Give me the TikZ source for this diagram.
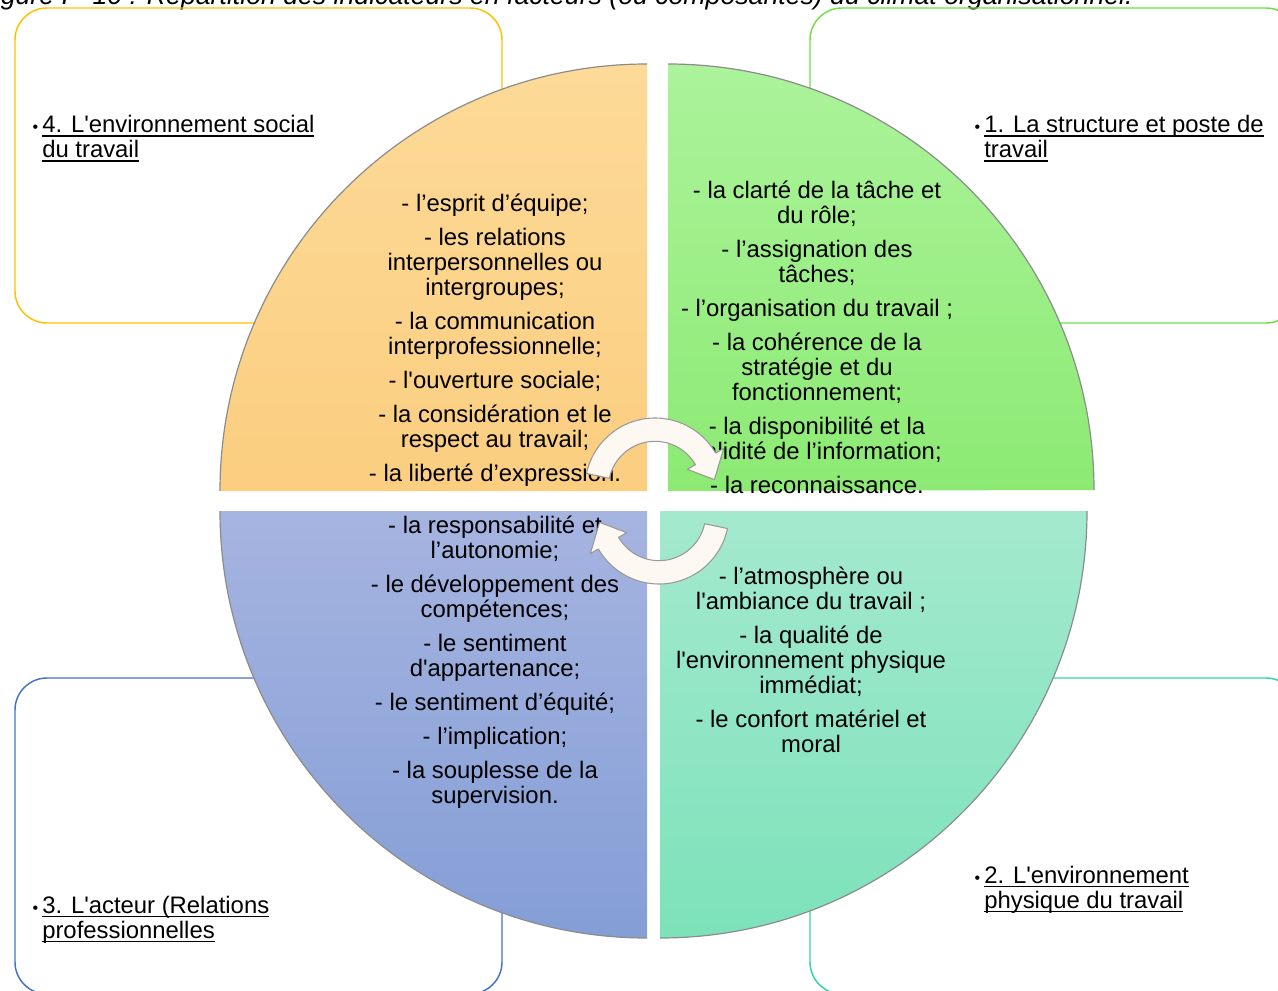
\documentclass[tikz,border=0pt]{standalone}
\usepackage{fontspec}
\setmainfont{Liberation Sans}
\definecolor{orTop}{RGB}{253,218,152}
\definecolor{orBot}{RGB}{251,206,128}
\definecolor{grTop}{RGB}{172,243,155}
\definecolor{grBot}{RGB}{140,234,115}
\definecolor{blTop}{RGB}{166,180,224}
\definecolor{blBot}{RGB}{132,158,214}
\definecolor{teTop}{RGB}{164,233,206}
\definecolor{teBot}{RGB}{124,226,186}
\definecolor{bxYellow}{RGB}{255,192,0}
\definecolor{bxGreen}{RGB}{110,224,70}
\definecolor{bxBlue}{RGB}{68,114,196}
\definecolor{bxTeal}{RGB}{52,214,158}
\definecolor{arrFill}{RGB}{253,248,242}
\newsavebox{\myulbox}
\newcommand{\myul}[1]{\sbox{\myulbox}{#1}\rlap{\rule[-3.3pt]{\wd\myulbox}{1.2pt}}\usebox{\myulbox}}
\newcommand{\sq}{\textquotesingle}
\newcommand{\mybul}{\llap{\fontsize{12pt}{12pt}\selectfont •\hspace{3pt}}}
\begin{document}
\begin{tikzpicture}[x=0.75pt,y=-0.75pt,
  cornerbox/.style={line width=1.1pt, rounded corners=24pt},
  quadedge/.style={draw=black!45, line width=0.9pt},
  qtext/.style={font=\fontsize{17.9pt}{18.75pt}\selectfont, align=center, inner sep=0pt, anchor=base},
  ctext/.style={font=\fontsize{17.9pt}{18.75pt}\selectfont, align=left, inner sep=0pt, anchor=base west},
  circarrow/.style={fill=arrFill, draw=black!40, line width=0.8pt, line join=round}]
\useasboundingbox (0,0) rectangle (1278,991);
\clip (0,0) rectangle (1278,991);

% caption (cut off at the top of the picture)
\node[font=\fontsize{20pt}{20pt}\selectfont\itshape, inner sep=0pt, anchor=base east] (caption) at (1133,5)
  {Figure I - 10 : Répartition des indicateurs en facteurs (ou composantes) du climat organisationnel.};

% corner rounded boxes
\draw[cornerbox, draw=bxYellow] (15,8) rectangle (502,323);
\draw[cornerbox, draw=bxGreen] (810,8) rectangle (1298,323);
\draw[cornerbox, draw=bxBlue] (15,678) rectangle (502,994);
\draw[cornerbox, draw=bxTeal] (810,678) rectangle (1298,994);

% quadrants
\path[top color=orTop, bottom color=orBot] (647,491) -- (220,491) arc[start angle=180, end angle=90, radius=427*0.75pt] -- cycle;
\draw[quadedge] (220,491) arc[start angle=180, end angle=90, radius=427*0.75pt];
\path[top color=grTop, bottom color=grBot] (668,491) -- (668,64) arc[start angle=90, end angle=0, radius=426*0.75pt] -- cycle;
\draw[quadedge] (668,64) arc[start angle=90, end angle=0, radius=426*0.75pt];
\path[top color=blTop, bottom color=blBot] (647,511) -- (220,511) arc[start angle=180, end angle=270, radius=427*0.75pt] -- cycle;
\draw[quadedge] (220,511) arc[start angle=180, end angle=270, radius=427*0.75pt];
\path[top color=teTop, bottom color=teBot] (660,511) -- (1087,511) arc[start angle=0, end angle=-90, radius=427*0.75pt] -- cycle;
\draw[quadedge] (1087,511) arc[start angle=0, end angle=-90, radius=427*0.75pt];

% quadrant texts (anchor = baseline of the last line)
\node[qtext] (social) at (495,481) {- l’esprit d’équipe;\\[6.75pt]
- les relations\\ interpersonnelles ou\\ intergroupes;\\[6.75pt]
- la communication\\ interprofessionnelle;\\[6.75pt]
- l\sq ouverture sociale;\\[6.75pt]
- la considération et le\\ respect au travail;\\[6.75pt]
- la liberté d’expression.};

\node[qtext] (structure) at (817,493) {- la clarté de la tâche et\\ du rôle;\\[6.75pt]
- l’assignation des\\ tâches;\\[6.75pt]
- l’organisation du travail ;\\[6.75pt]
- la cohérence de la\\ stratégie et du\\ fonctionnement;\\[6.75pt]
- la disponibilité et la\\ validité de l’information;\\[6.75pt]
- la reconnaissance.};

\node[qtext] (acteur) at (495,803) {- la responsabilité et\\ l’autonomie;\\[6.75pt]
- le développement des\\ compétences;\\[6.75pt]
- le sentiment\\ d\sq appartenance;\\[6.75pt]
- le sentiment d’équité;\\[6.75pt]
- l’implication;\\[6.75pt]
- la souplesse de la\\ supervision.};

\node[qtext] (physique) at (811,752) {- l’atmosphère ou\\ l\sq ambiance du travail ;\\[6.75pt]
- la qualité de\\ l\sq environnement physique\\ immédiat;\\[6.75pt]
- le confort matériel et\\ moral};

% circular arrows
\begin{scope}[shift={(655,488)}]
\path[circarrow] (168:52.5pt) arc[start angle=168, end angle=30, radius=52.5pt]
  -- (30:59.5pt) -- (8:45pt) -- (30:28pt) -- (30:35pt)
  arc[start angle=30, end angle=168, radius=35pt] -- cycle;
\end{scope}
\begin{scope}[shift={(659,514)}]
\path[circarrow] (348:52.5pt) arc[start angle=348, end angle=210, radius=52.5pt]
  -- (210:59.5pt) -- (188:45pt) -- (210:28pt) -- (210:35pt)
  arc[start angle=210, end angle=348, radius=35pt] -- cycle;
\end{scope}

% corner labels (anchor = baseline of the last line)
\node[ctext] (f4) at (42,157.5) {\mybul\myul{4. L\sq environnement social}\\ \myul{du travail}};
\node[ctext] (f1) at (984,157.5) {\mybul\myul{1. La structure et poste de}\\ \myul{travail}};
\node[ctext] (f3) at (42,938) {\mybul\myul{3. L\sq acteur (Relations}\\ \myul{professionnelles}};
\node[ctext] (f2) at (984,908) {\mybul\myul{2. L\sq environnement}\\ \myul{physique du travail}};
\end{tikzpicture}
\end{document}
